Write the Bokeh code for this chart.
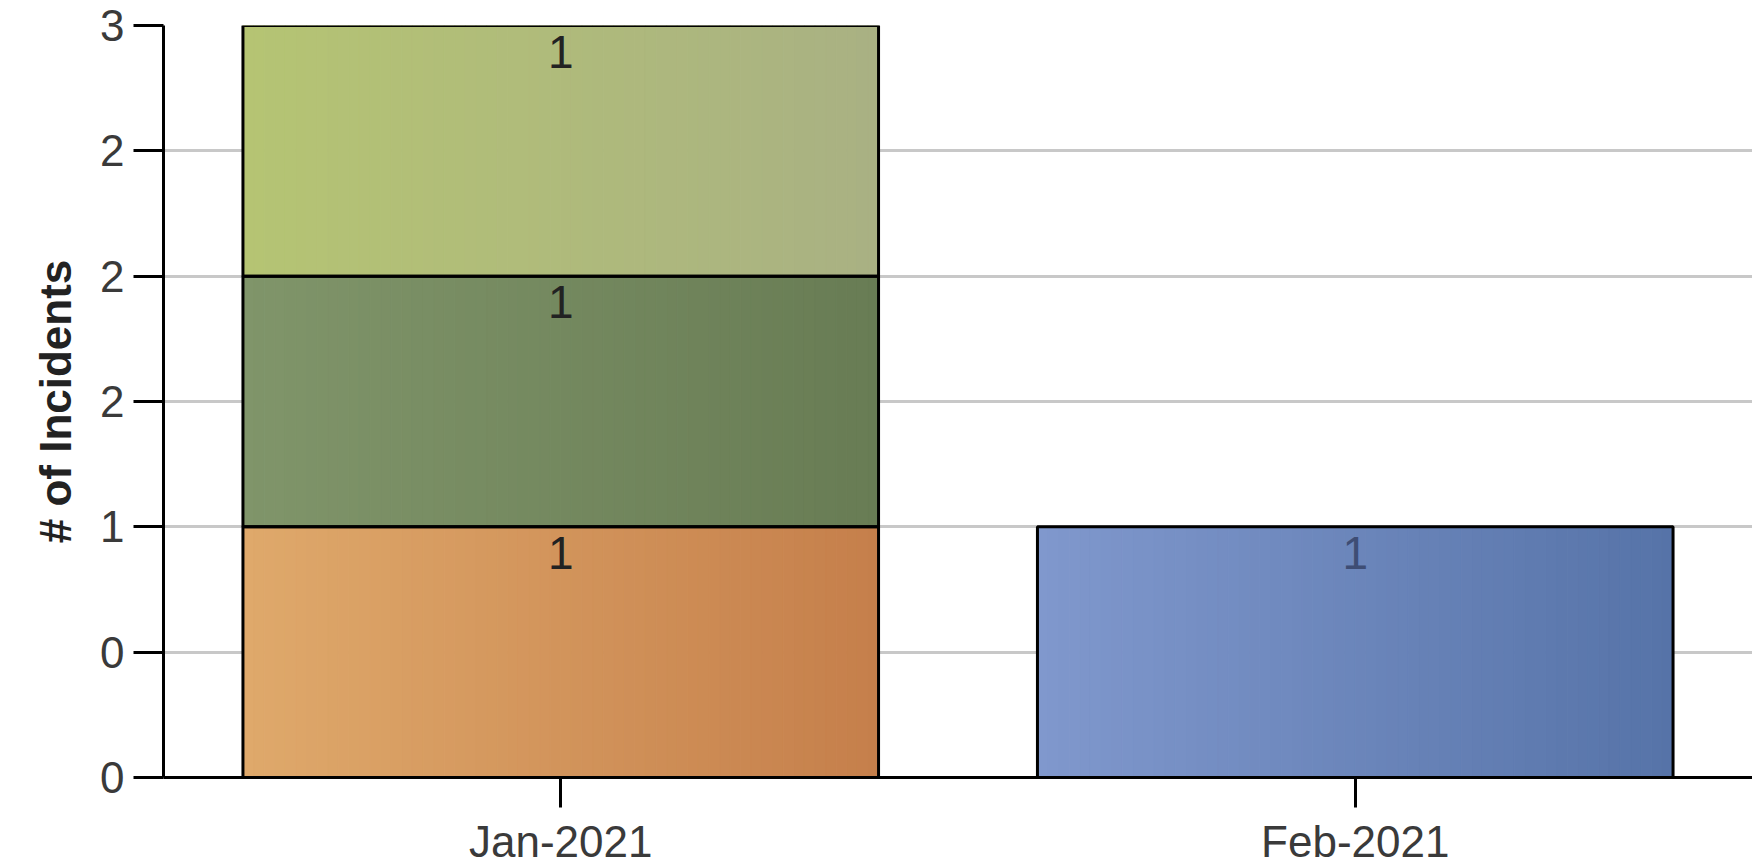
from bokeh.plotting import figure
from bokeh.models import Range1d, FixedTicker, ColumnDataSource
from bokeh.core.properties import value
from bokeh.embed import file_html
from bokeh.resources import INLINE

# ---------------- data ----------------
months = ["Jan-2021", "Feb-2021"]
series = ["Category A", "Category B", "Category C", "Category D"]
category_a = [1, 0]   # orange (bottom of Jan)
category_b = [1, 0]   # dark green
category_c = [1, 0]   # light green (top of Jan)
category_d = [0, 1]   # blue (Feb)
y_ticks = [0, 0.5, 1, 1.5, 2, 2.5, 3]
y_title = "# of Incidents"

# ---------------- styles ----------------
grad_left = ["#dfa96b", "#80956a", "#b5c473", "#8098cd"]
grad_right = ["#c57f4b", "#687c54", "#a9b183", "#5673a8"]
label_colors = ["#222222", "#222222", "#222222", "#3e4d74"]
FONT = "Liberation Sans"
BAR_W = 0.8
N_STRIPS = 60


def hex2rgb(h):
    h = h.lstrip("#")
    return tuple(int(h[i:i + 2], 16) for i in (0, 2, 4))


def mix(c1, c2, t):
    a, b = hex2rgb(c1), hex2rgb(c2)
    return "#%02x%02x%02x" % tuple(round(a[j] + (b[j] - a[j]) * t) for j in range(3))


p = figure(width=1752, height=868,
           x_range=Range1d(0, 2), y_range=Range1d(0, 3),
           output_backend="svg", toolbar_location=None,
           min_border_left=163, min_border_right=0,
           min_border_top=25, min_border_bottom=91)
p.outline_line_color = None
p.background_fill_color = "white"
p.border_fill_color = "white"

values_by_series = [category_a, category_b, category_c, category_d]
centers = [i + 0.5 for i in range(len(months))]
base = [0.0] * len(months)

strip_l, strip_r, strip_b, strip_t, strip_c = [], [], [], [], []
out_l, out_r, out_b, out_t = [], [], [], []
lab_x, lab_y, lab_txt, lab_col = [], [], [], []

for s_idx, vals in enumerate(values_by_series):
    for m_idx, v in enumerate(vals):
        if v <= 0:
            continue
        b = base[m_idx]
        t = b + v
        left = centers[m_idx] - BAR_W / 2
        for k in range(N_STRIPS):
            l = left + BAR_W * k / N_STRIPS
            r = left + BAR_W * (k + 1) / N_STRIPS
            strip_l.append(l)
            strip_r.append(r)
            strip_b.append(b)
            strip_t.append(t)
            strip_c.append(mix(grad_left[s_idx], grad_right[s_idx], (k + 0.5) / N_STRIPS))
        out_l.append(left)
        out_r.append(left + BAR_W)
        out_b.append(b)
        out_t.append(t)
        lab_x.append(centers[m_idx])
        lab_y.append(t)
        lab_txt.append(str(v))
        lab_col.append(label_colors[s_idx])
        base[m_idx] = t

strips = ColumnDataSource(dict(left=strip_l, right=strip_r, bottom=strip_b, top=strip_t, color=strip_c))
p.quad(left="left", right="right", bottom="bottom", top="top", source=strips,
       fill_color="color", line_color="color", line_width=1)

outlines = ColumnDataSource(dict(left=out_l, right=out_r, bottom=out_b, top=out_t))
p.quad(left="left", right="right", bottom="bottom", top="top", source=outlines,
       fill_color=None, line_color="black", line_width=3)

labels = ColumnDataSource(dict(x=lab_x, y=lab_y, text=lab_txt, color=lab_col))
p.text(x="x", y="y", text="text", source=labels, text_color="color",
       text_font=value(FONT), text_font_size="46px", text_align="center",
       text_baseline="top", y_offset=10)

# ---------------- axes ----------------
p.xaxis.ticker = FixedTicker(ticks=centers)
p.xaxis.major_label_overrides = {c: m for c, m in zip(centers, months)}
p.yaxis.ticker = FixedTicker(ticks=y_ticks)
p.yaxis.major_label_overrides = {float(t): str(round(t)) for t in y_ticks}

for ax in (p.xaxis[0], p.yaxis[0]):
    ax.axis_line_color = "black"
    ax.axis_line_width = 3
    ax.major_tick_line_color = "black"
    ax.major_tick_line_width = 3
    ax.major_tick_out = 30
    ax.major_tick_in = 0
    ax.minor_tick_line_color = None
    ax.major_label_text_font = FONT
    ax.major_label_text_font_size = "44px"
    ax.major_label_text_color = "#3a3a3a"

p.xaxis.major_label_standoff = 9
p.yaxis.major_label_standoff = 9
p.yaxis.axis_label = y_title
p.yaxis.axis_label_text_font = FONT
p.yaxis.axis_label_text_font_style = "bold"
p.yaxis.axis_label_text_font_size = "44px"
p.yaxis.axis_label_text_color = "#222222"
p.yaxis.axis_label_standoff = 17

p.xgrid.grid_line_color = None
p.ygrid.ticker = FixedTicker(ticks=y_ticks)
p.ygrid.grid_line_color = "#c8c8c8"
p.ygrid.grid_line_width = 3

open("out.html", "w").write(file_html(p, INLINE))
